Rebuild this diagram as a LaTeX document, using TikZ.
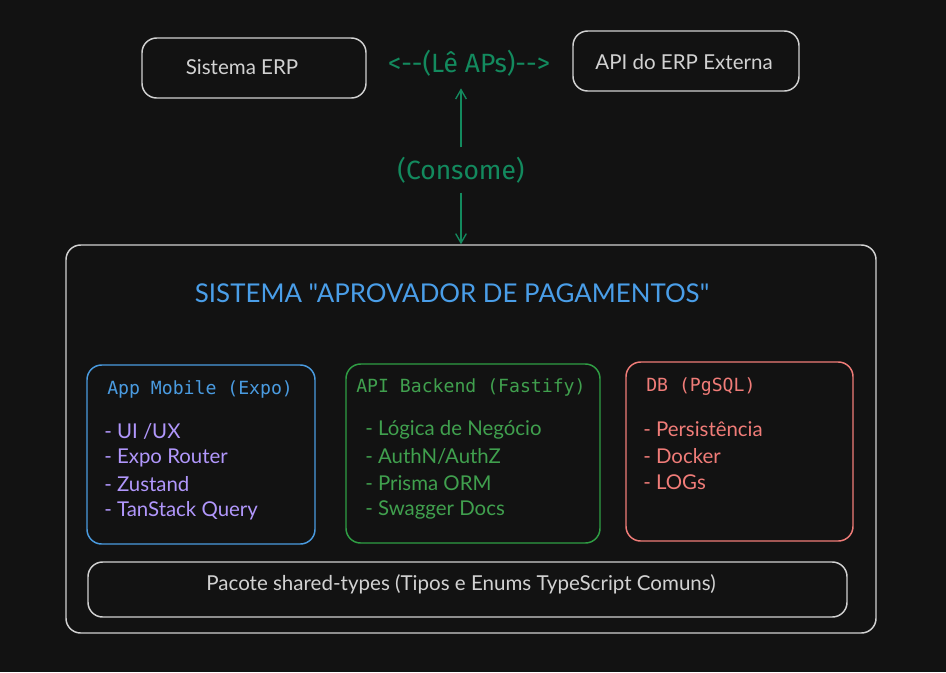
\documentclass[tikz,border=0pt]{standalone}
\usepackage{fontspec}
\setmainfont{Lato}
\setmonofont{DejaVu Sans Mono}
\newfontfamily\handfont{Fira Sans}
\newfontfamily\titlefont{Lato}[Ligatures=TeXOff]
\usetikzlibrary{arrows.meta}

\definecolor{bg}{HTML}{121212}
\definecolor{edge}{HTML}{D2D2D2}
\definecolor{hand}{HTML}{138A5E}
\definecolor{titleblue}{HTML}{4A9EE8}
\definecolor{mobblue}{HTML}{4A9BE0}
\definecolor{mobitem}{HTML}{B197FC}
\definecolor{apigreen}{HTML}{2F9E44}
\definecolor{apitext}{HTML}{40A04E}
\definecolor{dbred}{HTML}{F07C78}

\tikzset{
  box/.style={draw=#1, line width=1.1pt, rounded corners=11pt, inner sep=0pt},
  plain/.style={text=edge, font=\fontsize{15.4pt}{18pt}\selectfont, inner sep=0pt},
  handtext/.style={text=hand, font=\handfont\fontsize{19.8pt}{22pt}\selectfont, inner sep=0pt},
  head/.style={anchor=west, inner sep=0pt, font=\ttfamily\fontsize{13.6pt}{16pt}\selectfont},
  item/.style={anchor=west, inner sep=0pt, font=\fontsize{15.3pt}{18pt}\selectfont},
  flow/.style={->, >={Straight Barb[length=7pt,width=8pt]}, draw=hand, line width=1pt}
}

\begin{document}
\begin{tikzpicture}[x=0.75pt,y=-0.75pt]
  \fill[bg] (0,0) rectangle (946,672);
  \useasboundingbox (0,0) rectangle (946,672);

  % top row
  \node[box=edge, minimum width=168pt, minimum height=45pt] (erp) at (254,68) {};
  \node[plain] (erptext) at (242,67) {Sistema ERP};
  \node[box=edge, minimum width=169.5pt, minimum height=45pt] (extapi) at (686,61) {};
  \node[plain] (extapitext) at (684,62) {API do ERP Externa};
  \node[handtext] (leapis) at (469,63) {<--(Lê APs)-->};
  \node[handtext] (consome) at (461,170) {(Consome)};

  % outer system
  \node[box=edge, minimum width=607.5pt, minimum height=291pt] (outer) at (471,439) {};
  \node[text=titleblue, font=\titlefont\fontsize{19.4pt}{22pt}\selectfont, inner sep=0pt] (title) at (452,293)
    {SISTEMA "APROVADOR DE PAGAMENTOS"};

  \draw[flow, shorten <=7pt, shorten >=9pt] (consome.north) -- (consome.north |- leapis.south);
  \draw[flow, shorten <=7pt] (consome.south) -- (consome.south |- outer.north);

  % components
  \node[box=mobblue, minimum width=171pt, minimum height=134.25pt] (mobile) at (201,454.5) {};
  \node[box=apigreen, minimum width=190.5pt, minimum height=134.25pt] (backend) at (473,453.5) {};
  \node[box=dbred, minimum width=170.25pt, minimum height=134.25pt] (db) at (739.5,451.5) {};

  \node[head, text=mobblue] (mobilehead) at (107,389) {App Mobile (Expo)};
  \node[head, text=apitext] (backendhead) at (356,387) {API Backend (Fastify)};
  \node[head, text=dbred] (dbhead) at (646,387) {DB (PgSQL)};

  \foreach \t [count=\i from 0] in {UI /UX, Expo Router, Zustand, TanStack Query}
    \node[item, text=mobitem] (mobileitem\i) at (104,{431+26.6*\i}) {- \t};
  \foreach \t [count=\i from 0] in {Lógica de Negócio, AuthN/AuthZ, Prisma ORM, Swagger Docs}
    \node[item, text=apitext] (backenditem\i) at (365,{430+26.6*\i}) {- \t};
  \foreach \t [count=\i from 0] in {Persistência, Docker, LOGs}
    \node[item, text=dbred] (dbitem\i) at (643,{429+26.6*\i}) {- \t};

  % shared package
  \node[box=edge, minimum width=569.25pt, minimum height=41.25pt] (shared) at (467.5,589.5) {};
  \node[plain] (sharedtext) at (461,584) {Pacote shared-types (Tipos e Enums TypeScript Comuns)};
\end{tikzpicture}
\end{document}
